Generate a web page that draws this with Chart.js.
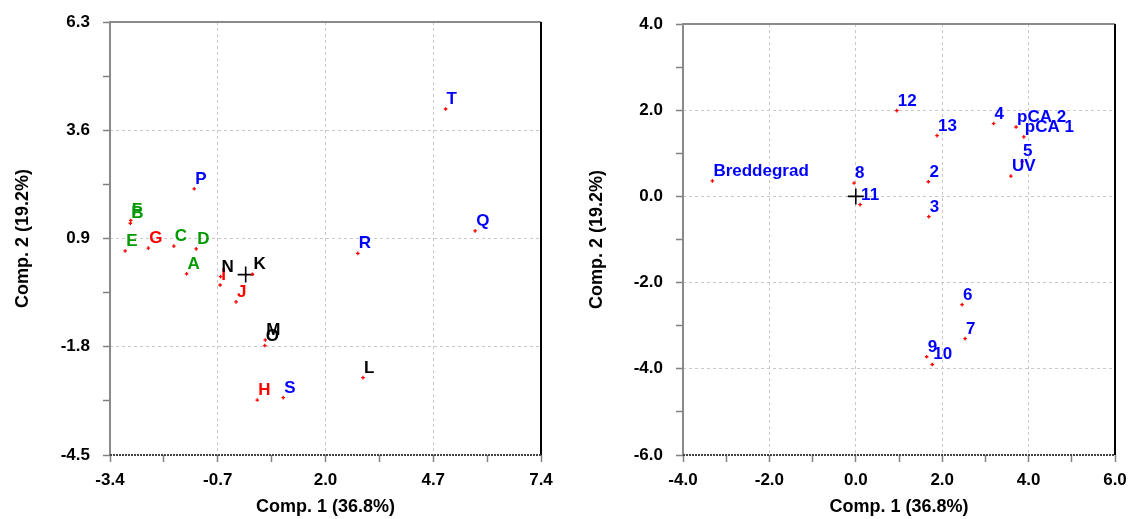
<!DOCTYPE html>
<html lang="en">
<head>
<meta charset="UTF-8">
<title>PCA scores and loadings</title>
<style>
    body {
        margin: 0;
        background: #fff;
    }
    #wrap {
        position: relative;
        width: 1130px;
        height: 519px;
    }
    canvas {
        position: absolute;
        top: 0;
    }
    #scores { left: 0; }
    #loadings { left: 565px; }
</style>
<script src="https://cdn.jsdelivr.net/npm/chart.js"></script>
</head>
<body>
<div id="wrap">
    <canvas id="scores" width="565" height="519"></canvas>
    <canvas id="loadings" width="565" height="519"></canvas>
</div>
<script>
    // score plot (left)
    const scoreNames = ['A','B','C','D','E','F','G','H','I','J','K','L','M','N','O','P','Q','R','S','T'];
    const scoreX = [-1.48, -2.89, -1.80, -1.24, -3.02, -2.88, -2.44, 0.29, -0.64, -0.24,
                    0.17, 2.94, 0.49, -0.63, 0.48, -1.29, 5.75, 2.81, 0.94, 5.01];
    const scoreY = [0.02, 1.28, 0.71, 0.64, 0.59, 1.35, 0.66, -3.13, -0.26, -0.68,
                    0.01, -2.57, -1.63, -0.05, -1.77, 2.14, 1.09, 0.53, -3.07, 4.13];
    const scoreGroup = [0,0,0,0,0,0, 1,1,1,1, 2,2,2,2,2, 3,3,3,3,3];
    const scoreXTicks = [-3.4, -0.7, 2.0, 4.7, 7.4];
    const scoreYTicks = [-4.5, -1.8, 0.9, 3.6, 6.3];

    // loading plot (right)
    const loadNames = ['Breddegrad','2','3','4','5','6','7','8','9','10','11','12','13','pCA 2','pCA 1','UV'];
    const loadX = [-3.32, 1.68, 1.69, 3.19, 3.85, 2.46, 2.53, -0.04, 1.64, 1.77, 0.10, 0.95, 1.88, 3.71, 3.89, 3.59];
    const loadY = [0.36, 0.34, -0.47, 1.69, 0.81, -2.51, -3.30, 0.31, -3.72, -3.90, -0.19, 1.99, 1.41, 1.61, 1.38, 0.47];
    const loadXTicks = [-4, -2, 0, 2, 4, 6];
    const loadYTicks = [-6, -4, -2, 0, 2, 4];

    const xTitle = 'Comp. 1 (36.8%)';
    const yTitle = 'Comp. 2 (19.2%)';

    const groupColors = ['#009a00', '#ff0000', '#000000', '#0000ff'];

    Chart.defaults.font.family = '"Liberation Sans", Arial, sans-serif';
    Chart.defaults.color = '#000';

    function isIn(list, v) {
        return list.some(t => Math.abs(t - v) < 1e-6);
    }

    // majors from the list plus one minor tick between each pair
    function withMinor(major) {
        return function (scale) {
            const t = [];
            major.forEach((v, i) => {
                t.push({ value: v });
                if (i < major.length - 1) t.push({ value: (v + major[i + 1]) / 2 });
            });
            scale.ticks = t;
        };
    }

    function axis(ticks, title, dims, horizontal) {
        const first = ticks[0], last = ticks[ticks.length - 1];
        return {
            type: 'linear',
            min: first,
            max: last,
            afterBuildTicks: withMinor(ticks),
            afterFit: function (s) {
                // fixed box sizes, no extra room for label overflow
                if (horizontal) {
                    s.height = dims.xAxisHeight;
                    s.paddingLeft = 0;
                    s.paddingRight = 0;
                } else {
                    s.width = dims.yAxisWidth;
                    s.paddingTop = 0;
                    s.paddingBottom = 0;
                }
            },
            ticks: {
                autoSkip: false,
                maxRotation: 0,
                padding: horizontal ? 8 : 13,
                color: '#000',
                font: { size: 17, weight: 'bold' },
                callback: (value) => isIn(ticks, value) ? value.toFixed(1) : ''
            },
            grid: {
                color: function (c) {
                    if (!c.tick) return 'transparent';
                    const v = c.tick.value;
                    if (!isIn(ticks, v) || Math.abs(v - first) < 1e-6 || Math.abs(v - last) < 1e-6) return 'transparent';
                    return '#c8c8c8';
                },
                lineWidth: 1,
                tickColor: '#808080',
                tickLength: 7,
                tickWidth: 1.5
            },
            border: { display: false, dash: [3, 3] },
            title: {
                display: true,
                text: title,
                color: '#000',
                font: { size: 18, weight: 'bold' },
                padding: horizontal ? { top: 0, bottom: 1 } : { top: dims.yTitlePad, bottom: 0 }
            }
        };
    }

    const framePlugin = {
        id: 'frame',
        beforeDatasetsDraw(chart) {
            const { ctx, chartArea: a } = chart;
            ctx.save();
            ctx.lineWidth = 2;
            ctx.strokeStyle = '#8a8a8a';
            ctx.beginPath();
            ctx.moveTo(a.left, a.bottom);
            ctx.lineTo(a.left, a.top);
            ctx.lineTo(a.right, a.top);
            ctx.stroke();
            ctx.strokeStyle = '#000';
            ctx.beginPath();
            ctx.moveTo(a.right, a.top);
            ctx.lineTo(a.right, a.bottom);
            ctx.stroke();
            ctx.strokeStyle = '#444';
            ctx.setLineDash([2, 1]);
            ctx.beginPath();
            ctx.moveTo(a.left, a.bottom);
            ctx.lineTo(a.right, a.bottom);
            ctx.stroke();
            ctx.restore();
        }
    };

    const labelPlugin = {
        id: 'pointNames',
        afterDatasetsDraw(chart) {
            const ctx = chart.ctx;
            ctx.save();
            ctx.font = 'bold 17px "Liberation Sans", Arial, sans-serif';
            ctx.textAlign = 'left';
            ctx.textBaseline = 'alphabetic';
            chart.data.datasets.forEach((ds, di) => {
                if (!ds.names) return;
                const meta = chart.getDatasetMeta(di);
                meta.data.forEach((pt, i) => {
                    ctx.fillStyle = ds.nameColors[i];
                    ctx.fillText(ds.names[i], pt.x + 1, pt.y - 5);
                });
            });
            ctx.restore();
        }
    };

    function makeChart(id, names, xs, ys, colors, xTicks, yTicks, dims) {
        new Chart(document.getElementById(id), {
            type: 'scatter',
            data: {
                datasets: [
                    {
                        data: xs.map((x, i) => ({ x: x, y: ys[i] })),
                        names: names,
                        nameColors: colors,
                        pointStyle: 'cross',
                        radius: 1.8,
                        borderWidth: 1.3,
                        borderColor: '#ff0000',
                        backgroundColor: '#ff0000'
                    },
                    {
                        data: [{ x: 0, y: 0 }],
                        pointStyle: 'cross',
                        radius: 8,
                        borderWidth: 1.6,
                        borderColor: '#000'
                    }
                ]
            },
            options: {
                responsive: false,
                animation: false,
                devicePixelRatio: 1,
                layout: { padding: { top: dims.padTop, right: dims.padRight, left: 0, bottom: 0 } },
                plugins: {
                    legend: { display: false },
                    tooltip: { enabled: false }
                },
                scales: {
                    x: axis(xTicks, xTitle, dims, true),
                    y: axis(yTicks, yTitle, dims, false)
                }
            },
            plugins: [framePlugin, labelPlugin]
        });
    }

    makeChart('scores', scoreNames, scoreX, scoreY, scoreGroup.map(g => groupColors[g]),
        scoreXTicks, scoreYTicks,
        { yAxisWidth: 110, xAxisHeight: 64, padTop: 22, padRight: 24, yTitlePad: 12 });

    makeChart('loadings', loadNames, loadX, loadY, loadNames.map(() => groupColors[3]),
        loadXTicks, loadYTicks,
        { yAxisWidth: 118, xAxisHeight: 64, padTop: 24, padRight: 15, yTitlePad: 21 });
</script>
</body>
</html>
